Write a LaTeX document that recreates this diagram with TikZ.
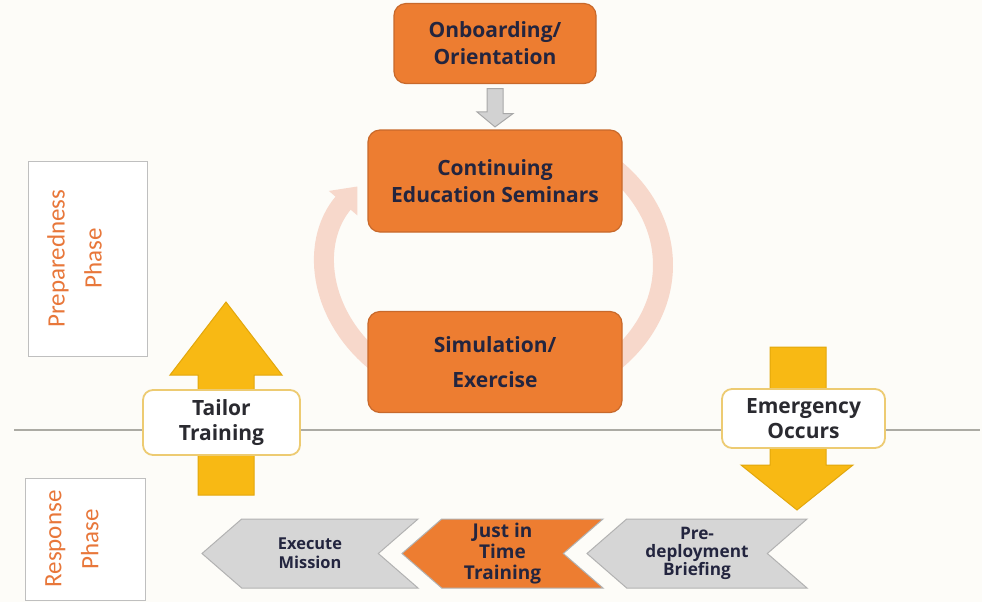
\documentclass[tikz,border=0pt]{standalone}
\usepackage{fontspec}
\setmainfont{Open Sans}
\newfontfamily\phasefont{Carlito}
\usetikzlibrary{shapes.symbols,calc,arrows.meta}

\definecolor{bgcream}{HTML}{FDFCF8}
\definecolor{boxorange}{HTML}{ED7D31}
\definecolor{boxedge}{HTML}{C8692B}
\definecolor{navytext}{HTML}{23253F}
\definecolor{darktext}{HTML}{2A2A30}
\definecolor{ringpink}{HTML}{F7D8CB}
\definecolor{chevgray}{HTML}{D6D6D6}
\definecolor{chevedge}{HTML}{B2B2B2}
\definecolor{arrowgray}{HTML}{D2D2D2}
\definecolor{arrowgrayedge}{HTML}{A8A8A8}
\definecolor{arrowgold}{HTML}{F8B914}
\definecolor{goldedge}{HTML}{E2A70C}
\definecolor{tailoredge}{HTML}{EDCB72}
\definecolor{phaseorange}{HTML}{E8773A}
\definecolor{hlinegray}{HTML}{ACABA4}

\tikzset{
  orangebox/.style={rectangle, rounded corners=6pt, fill=boxorange, draw=boxedge,
    line width=0.6pt, text=navytext, align=center,
    font=\bfseries\fontsize{10.5}{13.5}\selectfont},
  whitebox/.style={rectangle, rounded corners=5pt, fill=white, draw=tailoredge,
    line width=0.9pt, text=darktext, align=center,
    font=\bfseries\fontsize{10.5}{12.5}\selectfont},
  phasebox/.style={rectangle, fill=white, draw=black!25, line width=0.5pt},
  phaselabel/.style={rotate=90, text=phaseorange, align=center, inner sep=0pt,
    font=\phasefont\fontsize{12.5}{18.5}\selectfont},
  chevron/.style={signal, signal to=west, signal from=east, signal pointer angle=82,
    inner sep=0pt, minimum height=34.5pt, line width=0.5pt,
    text=navytext, align=center, font=\bfseries\fontsize{8.2}{9.5}\selectfont},
  goldarrow/.style={fill=arrowgold, draw=goldedge, line width=0.5pt},
}

\begin{document}
\begin{tikzpicture}[x=0.5pt,y=-0.5pt]
  % background and page size
  \fill[bgcream] (0,0) rectangle (982,602);
  \useasboundingbox (0,0) rectangle (982,602);

  % phase divider
  \draw[hlinegray, line width=0.6pt] (14,430) -- (980,430);

  % phase labels
  \node[phasebox, minimum width=59.5pt, minimum height=97.5pt] (prepphase) at (87.5,258.5) {};
  \node[phaselabel] (preplabel) at ($(prepphase.center)+(-13,0)$) {Preparedness\\Phase};
  \node[phasebox, minimum width=60pt, minimum height=61pt] (respphase) at (85,539) {};
  \node[phaselabel] (resplabel) at ($(respphase.center)+(-13,0)$) {Response\\Phase};

  % training cycle ring
  \coordinate (cyclemid) at (495,265);
  \draw[ringpink, line width=10pt, -{Triangle[width=18pt,length=11pt]}]
    (cyclemid) ++(-50:168 and 137) arc[start angle=-50, end angle=215, x radius=168, y radius=137];

  % preparedness boxes
  \node[orangebox, minimum width=101pt, minimum height=40pt] (onboard) at (495,43.5) {Onboarding/\\Orientation};
  \node[orangebox, minimum width=127pt, minimum height=51pt] (contedu) at (495,181) {Continuing\\Education Seminars};
  \node[orangebox, minimum width=127pt, minimum height=50.5pt,
    font=\bfseries\fontsize{10.5}{17.5}\selectfont] (simex) at (495,362) {Simulation/\\Exercise};

  % onboarding leads into the seminars
  \filldraw[fill=arrowgray, draw=arrowgrayedge, line width=0.5pt]
    ($(onboard.south)+(-8,4.5)$) -- ++(16,0) -- ++(0,25) -- ++(10,0)
    -- ($(contedu.north)+(0,-2.5)$) -- ++(-18,-15) -- ++(10,0) -- cycle;

  % phase change arrows
  \filldraw[goldarrow] (198,495) -- (198,375) -- (170,375) -- (226,302)
    -- (282,375) -- (254,375) -- (254,495) -- cycle;
  \filldraw[goldarrow] (770,347) -- (826,347) -- (826,465) -- (853,465)
    -- (797,510) -- (741,465) -- (770,465) -- cycle;

  \node[whitebox, minimum width=78.5pt, minimum height=32.5pt] (tailor) at (221.5,422.5) {Tailor\\Training};
  \node[whitebox, minimum width=81.5pt, minimum height=29.5pt] (emerg) at (803.5,418.5) {Emergency\\Occurs};

  % response steps
  \node[chevron, fill=chevgray, draw=chevedge, minimum width=108pt] (execmis) at (310,553.5) {Execute\\Mission};
  \node[chevron, fill=boxorange, draw=chevedge, minimum width=100.5pt,
    font=\bfseries\fontsize{9.5}{10.5}\selectfont] (jittrain) at (502.5,553.5) {Just in\\Time\\Training};
  \node[chevron, fill=chevgray, draw=chevedge, minimum width=110pt,
    font=\bfseries\fontsize{8.6}{9}\selectfont] (predeploy) at (697,553.5) {Pre-\\deployment\\Briefing};
\end{tikzpicture}
\end{document}
